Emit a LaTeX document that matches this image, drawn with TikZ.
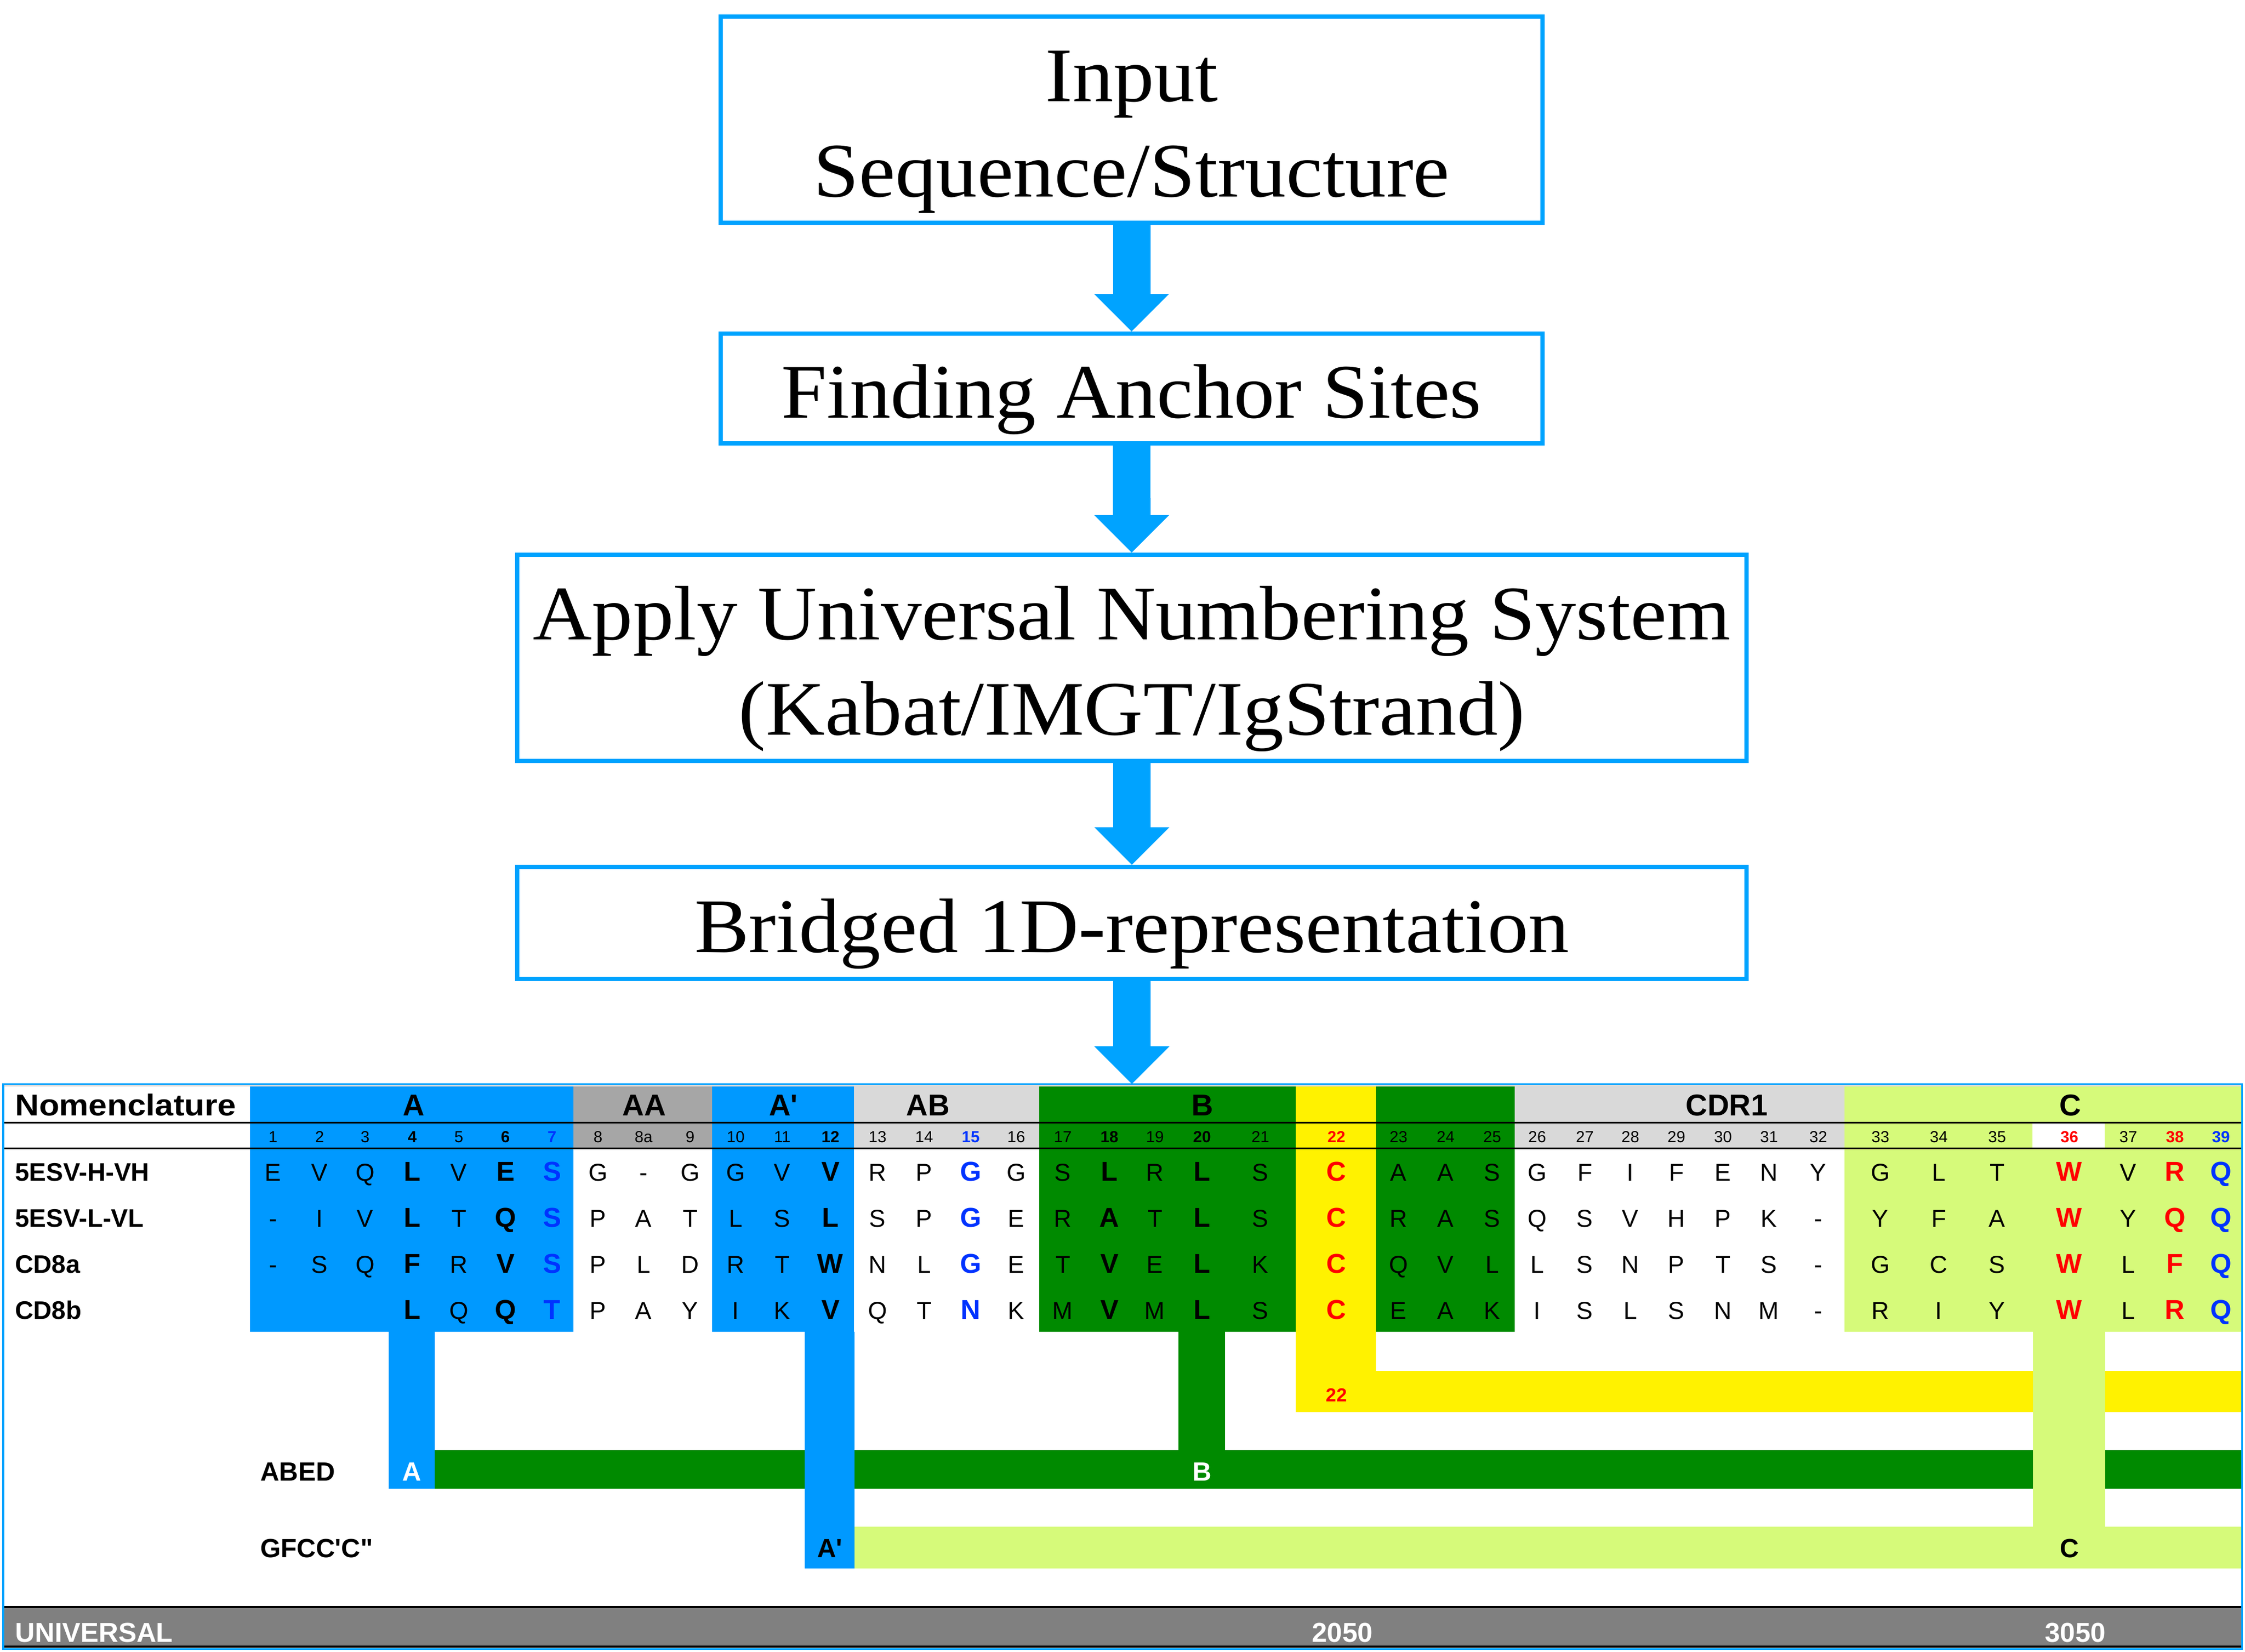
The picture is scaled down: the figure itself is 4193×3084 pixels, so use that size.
\documentclass[tikz,border=0pt]{standalone}
\usepackage{fontspec}
\setmainfont{Liberation Serif}[FakeStretch=1.06]
\newfontfamily\tabfont{Liberation Sans}
\newfontfamily\widetabfont{Liberation Sans}[FakeStretch=1.1]
\usetikzlibrary{arrows.meta}

\definecolor{flowblue}{RGB}{0,163,255}
\definecolor{strandblue}{RGB}{0,153,255}
\definecolor{strandgreen}{RGB}{0,138,0}
\definecolor{strandlime}{RGB}{214,250,122}
\definecolor{hdrgray}{RGB}{166,166,166}
\definecolor{loopgray}{RGB}{217,217,217}
\definecolor{unigray}{RGB}{128,128,128}
\definecolor{motifblue}{RGB}{0,51,255}
\definecolor{motifred}{RGB}{255,0,0}

\newcommand{\stagestrut}{\rule{0pt}{40pt}}

\begin{document}
\begin{tikzpicture}[x=0.01cm, y=-0.01cm,
    stage/.style={draw=flowblue, line width=0.08cm, inner sep=0pt, align=center,
        font=\fontsize{41}{50.5}\selectfont},
    flow/.style={draw=flowblue, line width=0.7cm,
        -{Triangle[width=1.4cm, length=0.7cm, line width=0pt]}},
    lbl/.style={anchor=base west, font=\tabfont\bfseries\fontsize{13.5}{15}\selectfont},
    seg/.style={anchor=base, font=\tabfont\bfseries\fontsize{16}{18}\selectfont},
    resplain/.style={anchor=base, font=\tabfont\fontsize{13}{15}\selectfont},
    resbold/.style={anchor=base, font=\tabfont\bfseries\fontsize{14.5}{16}\selectfont},
    resblue/.style={resbold, text=motifblue},
    resred/.style={resbold, text=motifred},
    numplain/.style={anchor=base, font=\tabfont\fontsize{8.5}{10}\selectfont},
    numbold/.style={anchor=base, font=\tabfont\bfseries\fontsize{8.5}{10}\selectfont},
    numblue/.style={numbold, text=motifblue},
    numred/.style={numbold, text=motifred},
    tag/.style={anchor=base, font=\tabfont\bfseries\fontsize{14}{16}\selectfont}]

    \useasboundingbox (0,0) rectangle (4193,3084);

    % pipeline
    \node[stage, minimum width=15.35cm, minimum height=3.85cm] (input) at (2113.5,223.5)
        {\stagestrut Input\\Sequence/Structure};
    \node[stage, minimum width=15.35cm, minimum height=2.05cm] (anchor) at (2113.5,725.5)
        {\stagestrut Finding Anchor Sites};
    \node[stage, minimum width=22.94cm, minimum height=3.85cm] (apply) at (2114,1228.5)
        {\stagestrut Apply Universal Numbering System\\(Kabat/IMGT/IgStrand)};
    \node[stage, minimum width=22.94cm, minimum height=2.09cm] (bridged) at (2114,1723.5)
        {\stagestrut Bridged 1D-representation};
    \coordinate (tbltop) at (2114,2024);

    \draw[flow] (input) -- (anchor);
    \draw[flow] (anchor) -- (apply);
    \draw[flow] (apply) -- (bridged);
    \draw[flow] (bridged) -- (tbltop);

    % strand blocks
    \fill[loopgray] (6,2024) rectangle (4187,2029);
    \fill[strandblue] (467,2029) rectangle (1071,2487);
    \fill[hdrgray] (1071,2029) rectangle (1330,2144);
    \fill[strandblue] (1330,2029) rectangle (1595,2487);
    \fill[loopgray] (1595,2029) rectangle (1941,2144);
    \fill[strandgreen] (1941,2029) rectangle (2420,2487);
    \fill[yellow] (2420,2029) rectangle (2570,2487);
    \fill[strandgreen] (2570,2029) rectangle (2829,2487);
    \fill[loopgray] (2829,2029) rectangle (3445,2144);
    \fill[strandlime] (3445,2029) rectangle (4187,2487);
    \fill[white] (3796,2096) rectangle (3931,2144);

    \draw[line width=0.03cm] (6,2096) -- (4187,2096);
    \draw[line width=0.03cm] (6,2144) -- (4187,2144);

    % headers
    \node[anchor=base west, font=\widetabfont\bfseries\fontsize{16}{18}\selectfont] (nomen) at (16,2083) {Nomenclature};
    \node[seg] (segA) at (773,2083) {A};
    \node[seg] (segAA) at (1203,2083) {AA};
    \node[seg] (segA1) at (1463,2083) {A\textquotesingle};
    \node[seg] (segAB) at (1733,2083) {AB};
    \node[seg] (segB) at (2246,2083) {B};
    \node[seg] (segCDR) at (3225,2083) {CDR1};
    \node[seg] (segC) at (3867,2083) {C};

    \node[lbl] (lblvh) at (16,2205) {5ESV-H-VH};
    \node[lbl] (lblvl) at (16,2291) {5ESV-L-VL};
    \node[lbl] (lblcda) at (16,2377) {CD8a};
    \node[lbl] (lblcdb) at (16,2463) {CD8b};

    % residues, one column at a time
    \foreach \x/\n/\s/\a/\b/\c/\d [count=\i] in {
        510/1/plain/E/-/-/{}, 597/2/plain/V/I/S/{}, 682/3/plain/Q/V/Q/{},
        770/4/bold/L/L/F/L, 857/5/plain/V/T/R/Q, 944/6/bold/E/Q/V/Q,
        1031/7/blue/S/S/S/T, 1117/8/plain/G/P/P/P, 1202/8a/plain/-/A/L/A,
        1289/9/plain/G/T/D/Y, 1374/10/plain/G/L/R/I, 1461/11/plain/V/S/T/K,
        1551/12/bold/V/L/W/V, 1639/13/plain/R/S/N/Q, 1726/14/plain/P/P/L/T,
        1813/15/blue/G/G/G/N, 1898/16/plain/G/E/E/K, 1985/17/plain/S/R/T/M,
        2072/18/bold/L/A/V/V, 2157/19/plain/R/T/E/M, 2245/20/bold/L/L/L/L,
        2354/21/plain/S/S/K/S, 2496/22/red/C/C/C/C, 2612/23/plain/A/R/Q/E,
        2700/24/plain/A/A/V/A, 2787/25/plain/S/S/L/K, 2871/26/plain/G/Q/L/I,
        2960/27/plain/F/S/S/S, 3045/28/plain/I/V/N/L, 3131/29/plain/F/H/P/S,
        3218/30/plain/E/P/T/N, 3304/31/plain/N/K/S/M, 3396/32/plain/Y/-/-/-,
        3512/33/plain/G/Y/G/R, 3621/34/plain/L/F/C/I, 3730/35/plain/T/A/S/Y,
        3865/36/red/W/W/W/W, 3975/37/plain/V/Y/L/L, 4062/38/red/R/Q/F/R,
        4148/39/blue/Q/Q/Q/Q}
    {
        \node[num\s] (num\i) at (\x,2133) {\n};
        \node[res\s] (vh\i) at (\x,2205) {\a};
        \node[res\s] (vl\i) at (\x,2291) {\b};
        \node[res\s] (cda\i) at (\x,2377) {\c};
        \node[res\s] (cdb\i) at (\x,2463) {\d};
    }

    % bridges below the table
    \fill[yellow] (2420,2487) rectangle (2570,2637);
    \fill[yellow] (2570,2560) rectangle (4187,2637);
    \fill[strandgreen] (812,2708) rectangle (4187,2780);
    \fill[strandlime] (1596,2851) rectangle (4187,2929);
    \fill[strandgreen] (2201,2487) rectangle (2288,2708);
    \fill[strandlime] (3797,2487) rectangle (3932,2929);
    \fill[strandblue] (726,2487) rectangle (812,2780);
    \fill[strandblue] (1503,2487) rectangle (1596,2929);

    \node[anchor=base, text=motifred, font=\tabfont\bfseries\fontsize{10}{12}\selectfont] (cys) at (2496,2617) {22};
    \node[lbl, font=\tabfont\bfseries\fontsize{14}{16}\selectfont] (abed) at (474,2765) {ABED};
    \node[lbl, font=\tabfont\bfseries\fontsize{14}{16}\selectfont] (gfcc) at (474,2908) {GFCC\textquotesingle C\textquotedbl};
    \node[tag, text=white] (tagA) at (769,2765) {A};
    \node[tag, text=white] (tagB) at (2245,2765) {B};
    \node[tag] (tagA1) at (1550,2908) {A\textquotesingle};
    \node[tag] (tagC) at (3865,2908) {C};

    % universal scale
    \fill[unigray] (6,3001) rectangle (4187,3075);
    \draw[line width=0.035cm] (6,3001) -- (4187,3001);
    \draw[line width=0.035cm] (6,3075) -- (4187,3075);
    \node[lbl, text=white, font=\tabfont\bfseries\fontsize{14.5}{16}\selectfont] (uni) at (16,3066) {UNIVERSAL};
    \node[tag, text=white, font=\tabfont\bfseries\fontsize{14.5}{16}\selectfont] (u2050) at (2507,3066) {2050};
    \node[tag, text=white, font=\tabfont\bfseries\fontsize{14.5}{16}\selectfont] (u3050) at (3876,3066) {3050};

    \draw[flowblue, line width=0.03cm] (6,2024) rectangle (4187,3079);
\end{tikzpicture}
\end{document}
